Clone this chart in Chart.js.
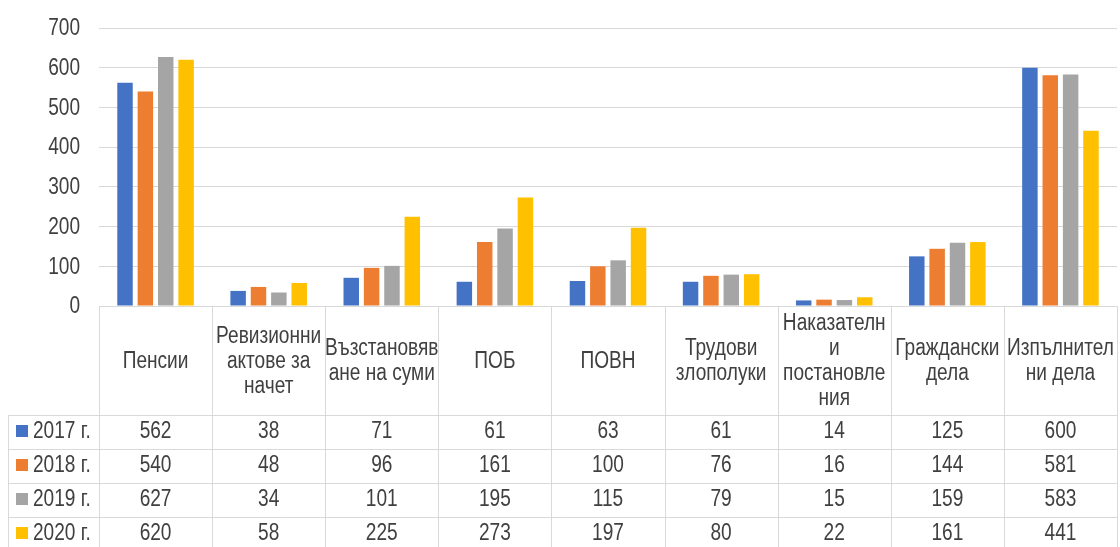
<!DOCTYPE html>
<html>
<head>
<meta charset="utf-8">
<script src="https://cdn.jsdelivr.net/npm/chart.js@4"></script>
<style>
  html, body { margin: 0; padding: 0; background: #ffffff; }
  #wrap { width: 1120px; height: 547px; }
</style>
</head>
<body>
<div id="wrap"><canvas id="chart" width="1120" height="547"></canvas></div>
<script>
//DATA
const categories = [
  ["Пенсии"],
  ["Ревизионни", "актове за", "начет"],
  ["Възстановяв", "ане на суми"],
  ["ПОБ"],
  ["ПОВН"],
  ["Трудови", "злополуки"],
  ["Наказателн", "и", "постановле", "ния"],
  ["Граждански", "дела"],
  ["Изпълнител", "ни дела"]
];
const years = ["2017 г.", "2018 г.", "2019 г.", "2020 г."];
const values2017 = [562, 38, 71, 61, 63, 61, 14, 125, 600];
const values2018 = [540, 48, 96, 161, 100, 76, 16, 144, 581];
const values2019 = [627, 34, 101, 195, 115, 79, 15, 159, 583];
const values2020 = [620, 58, 225, 273, 197, 80, 22, 161, 441];
const yTicks = [0, 100, 200, 300, 400, 500, 600, 700];

const colors = ["#4472C4", "#ED7D31", "#A5A5A5", "#FFC000"];
const textColor = "#404040";
const lineColor = "#d9d9d9";
const fontFamily = "'Liberation Sans', Arial, sans-serif";
const fontSize = 23;
const narrow = 0.83; // no narrow font installed, so squeeze the regular one

/*
  @desc: writes text squeezed horizontally, so it looks like Arial Narrow
*/
var narrowText = function (ctx, text, x, y, align) {
  ctx.save();
  ctx.translate(x, y);
  ctx.scale(narrow, 1);
  ctx.textAlign = align;
  ctx.fillText(text, 0, 0);
  ctx.restore();
};

/*
  @desc: y tick labels + the data table under the bars (header row with category names + one row per year)
*/
const dataTable = {
  id: "dataTable",
  afterDraw(chart) {
    const ctx = chart.ctx;
    const area = chart.chartArea;
    const x = chart.scales.x;
    const y = chart.scales.y;
    const colW = (area.right - area.left) / categories.length;
    const headerTop = area.bottom;
    const headerBottom = 415;
    const rowH = 34;
    const tableLeft = 8;
    const tableBottom = 551;

    ctx.save();
    ctx.strokeStyle = lineColor;
    ctx.lineWidth = 1;

    // vertical lines of the category columns
    for (let i = 0; i <= categories.length; i++) {
      const lx = Math.round(area.left + i * colW) + 0.5;
      ctx.beginPath();
      ctx.moveTo(lx, headerTop);
      ctx.lineTo(lx, tableBottom);
      ctx.stroke();
    }
    // row lines
    for (let r = 0; r <= years.length; r++) {
      const ly = headerBottom + r * rowH + 0.5;
      ctx.beginPath();
      ctx.moveTo(tableLeft, ly);
      ctx.lineTo(area.right, ly);
      ctx.stroke();
    }
    // left border of the legend column
    ctx.beginPath();
    ctx.moveTo(tableLeft + 0.5, headerBottom);
    ctx.lineTo(tableLeft + 0.5, tableBottom);
    ctx.stroke();

    ctx.fillStyle = textColor;
    ctx.font = fontSize + "px " + fontFamily;
    ctx.textBaseline = "middle";

    // y axis labels
    yTicks.forEach(v => {
      narrowText(ctx, String(v), 80, y.getPixelForValue(v) + 1, "right");
    });

    // header: category names
    const lineH = 25;
    const headerMid = (headerTop + headerBottom) / 2 + 1;
    categories.forEach((lines, i) => {
      const cx = x.getPixelForValue(i);
      const startY = headerMid - (lines.length - 1) * lineH / 2;
      lines.forEach((line, k) => {
        narrowText(ctx, line, cx, startY + k * lineH, "center");
      });
    });

    // rows: legend key + values
    chart.data.datasets.forEach((ds, r) => {
      const cy = headerBottom + r * rowH + rowH / 2;
      ctx.fillStyle = ds.backgroundColor;
      ctx.fillRect(16, Math.round(cy - 7), 12, 12);
      ctx.fillStyle = textColor;
      narrowText(ctx, ds.label, 33, cy, "left");
      ds.data.forEach((v, i) => {
        narrowText(ctx, String(v), x.getPixelForValue(i), cy, "center");
      });
    });
    ctx.restore();
  }
};

let config = {
  type: "bar",
  data: {
    labels: categories,
    datasets: [
      { label: years[0], backgroundColor: colors[0], data: values2017 },
      { label: years[1], backgroundColor: colors[1], data: values2018 },
      { label: years[2], backgroundColor: colors[2], data: values2019 },
      { label: years[3], backgroundColor: colors[3], data: values2020 },
    ],
  },
  options: {
    responsive: false,
    animation: false,
    layout: {
      padding: { left: 0, right: 3, top: 28, bottom: 241 },
    },
    datasets: {
      bar: { categoryPercentage: 0.72, barPercentage: 0.76 },
    },
    plugins: {
      legend: { display: false },
      tooltip: { enabled: false },
    },
    scales: {
      x: { display: false },
      y: {
        min: 0,
        max: 700,
        afterFit(scale) { scale.width = 99; },
        afterBuildTicks(scale) { scale.ticks = yTicks.map(v => ({ value: v })); },
        border: { display: false },
        grid: { color: lineColor, drawTicks: false },
        ticks: { display: false },
      },
    },
  },
  plugins: [dataTable],
};

const chart = new Chart(document.getElementById("chart"), config);
</script>
</body>
</html>
